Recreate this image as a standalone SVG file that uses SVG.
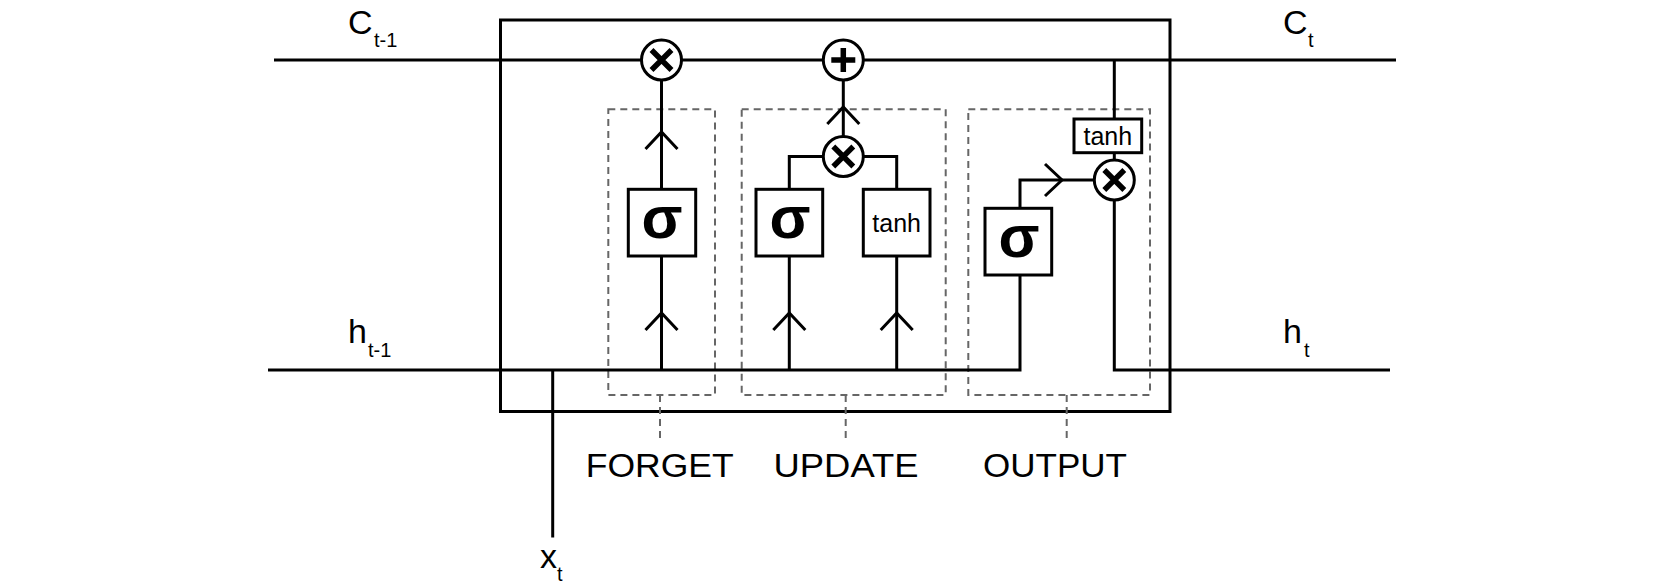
<svg xmlns="http://www.w3.org/2000/svg" width="1665" height="588" viewBox="0 0 1665 588">
<style>
.ln{fill:none;stroke:#000;stroke-width:3;stroke-linejoin:miter}
.bx{fill:#fff;stroke:#000;stroke-width:3}
.dash{fill:none;stroke:#666;stroke-width:2;stroke-dasharray:7 5}
.op{fill:#fff;stroke:#000;stroke-width:3}
.sym{fill:none;stroke:#000;stroke-width:5.5;stroke-linecap:butt}
.lbl{font-family:"Liberation Sans",Arial,sans-serif;font-size:34px;fill:#000}
.sub{font-family:"Liberation Sans",Arial,sans-serif;font-size:20px;fill:#000}
.sig{font-family:"Liberation Sans",Arial,sans-serif;font-size:60px;font-weight:bold;fill:#000;text-anchor:middle}
.tanh{font-family:"Liberation Sans",Arial,sans-serif;font-size:25px;fill:#000;text-anchor:middle}
.gate{font-family:"Liberation Sans",Arial,sans-serif;font-size:33px;fill:#000}
</style>
<rect width="1665" height="588" fill="#fff"/>
<g id="cell">
<rect x="500.5" y="20" width="669.5" height="391.5" class="ln"/>
</g>
<g id="gate-boxes">
<rect x="608.3" y="109.3" width="106.7" height="285.7" class="dash"/>
<rect x="741.7" y="109.3" width="204" height="285.7" class="dash"/>
<rect x="968.3" y="109.3" width="181.7" height="285.7" class="dash"/>
<line x1="660" y1="395" x2="660" y2="441" class="dash"/>
<line x1="845.7" y1="395" x2="845.7" y2="441" class="dash"/>
<line x1="1066.7" y1="395" x2="1066.7" y2="441" class="dash"/>
</g>
<g id="connectors">
<line x1="274" y1="60" x2="1396" y2="60" class="ln"/>
<polyline points="268,370 1020,370 1020,275" class="ln"/>
<polyline points="1390,370 1114.3,370 1114.3,200" class="ln"/>
<line x1="552.7" y1="370" x2="552.7" y2="537.5" class="ln"/>
<line x1="661.5" y1="370" x2="661.5" y2="80" class="ln"/>
<line x1="789.3" y1="370" x2="789.3" y2="256" class="ln"/>
<line x1="896.7" y1="370" x2="896.7" y2="256" class="ln"/>
<polyline points="789.3,189.3 789.3,156.5 823.3,156.5" class="ln"/>
<polyline points="896.7,189.3 896.7,156.5 863.3,156.5" class="ln"/>
<line x1="843.3" y1="136.5" x2="843.3" y2="80" class="ln"/>
<polyline points="1020,208.3 1020,180 1094.3,180" class="ln"/>
<line x1="1114.3" y1="60" x2="1114.3" y2="160" class="ln"/>
<polyline points="645.5,149 661.5,132 677.5,149" class="ln"/>
<polyline points="645.5,330 661.5,313 677.5,330" class="ln"/>
<polyline points="773.3,330 789.3,313 805.3,330" class="ln"/>
<polyline points="880.7,330 896.7,313 912.7,330" class="ln"/>
<polyline points="827.3,124 843.3,107 859.3,124" class="ln"/>
<polyline points="1045,164 1062,180 1045,196" class="ln"/>
</g>
<g id="forget-sigma">
<rect x="628.3" y="189.3" width="67.4" height="66.7" class="bx"/>
<text x="662" y="238" class="sig">σ</text>
</g>
<g id="forget-mult">
<circle cx="661.5" cy="60" r="20" class="op"/>
<path d="M651.5 50 L671.5 70 M671.5 50 L651.5 70" class="sym"/>
</g>
<g id="update-sigma">
<rect x="756" y="189.3" width="66.7" height="66.7" class="bx"/>
<text x="790" y="238" class="sig">σ</text>
</g>
<g id="update-tanh">
<rect x="863.3" y="189.3" width="66.7" height="66.7" class="bx"/>
<text x="896.7" y="231.5" class="tanh">tanh</text>
</g>
<g id="update-mult">
<circle cx="843.3" cy="156.5" r="20" class="op"/>
<path d="M833.3 146.5 L853.3 166.5 M853.3 146.5 L833.3 166.5" class="sym"/>
</g>
<g id="update-add">
<circle cx="843.3" cy="60" r="20" class="op"/>
<path d="M843.3 48 L843.3 72 M831.3 60 L855.3 60" class="sym"/>
</g>
<g id="output-sigma">
<rect x="985" y="208.3" width="66.7" height="66.7" class="bx"/>
<text x="1019" y="257" class="sig">σ</text>
</g>
<g id="output-tanh">
<rect x="1074" y="119" width="67.7" height="33.7" class="bx"/>
<text x="1107.8" y="145" class="tanh">tanh</text>
</g>
<g id="output-mult">
<circle cx="1114.3" cy="180" r="20" class="op"/>
<path d="M1104.3 170 L1124.3 190 M1124.3 170 L1104.3 190" class="sym"/>
</g>
<g id="labels">
<text x="348" y="34" class="lbl">C</text><text x="374" y="47" class="sub">t-1</text>
<text x="1283" y="34" class="lbl">C</text><text x="1308" y="47" class="sub">t</text>
<text x="348" y="343" class="lbl">h</text><text x="368" y="357" class="sub">t-1</text>
<text x="540" y="568" class="lbl">x</text><text x="557" y="581" class="sub">t</text>
<text x="585.7" y="477" class="gate" textLength="148" lengthAdjust="spacingAndGlyphs">FORGET</text>
<text x="773.5" y="477" class="gate" textLength="145" lengthAdjust="spacingAndGlyphs">UPDATE</text>
<text x="983" y="477" class="gate" textLength="144" lengthAdjust="spacingAndGlyphs">OUTPUT</text>
<text x="1283" y="343" class="lbl">h</text><text x="1304" y="357" class="sub">t</text>
</g>
</svg>
